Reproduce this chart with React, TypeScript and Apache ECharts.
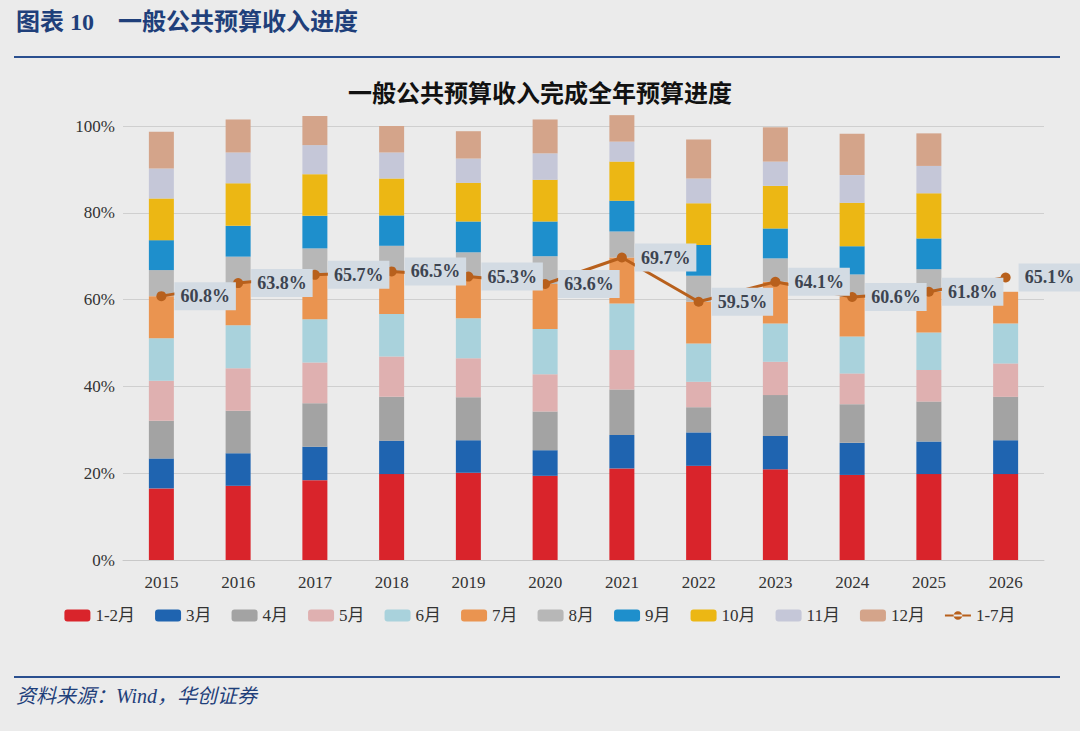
import * as echarts from "echarts";
import { useEffect, useRef } from "react";

const years = ["2015", "2016", "2017", "2018", "2019", "2020", "2021", "2022", "2023", "2024", "2025", "2026"];
const monthNames = ["1-2月", "3月", "4月", "5月", "6月", "7月", "8月", "9月", "10月", "11月", "12月"];

// cumulative progress (%) at the end of each period
const cumFeb = [16.5, 17.1, 18.4, 19.8, 20.1, 19.4, 21.1, 21.7, 20.9, 19.6, 19.8, 19.8];
const cumMar = [23.4, 24.6, 26.1, 27.5, 27.6, 25.3, 28.8, 29.4, 28.6, 27.0, 27.3, 27.6];
const cumApr = [32.1, 34.4, 36.1, 37.6, 37.5, 34.2, 39.3, 35.2, 38.0, 35.9, 36.5, 37.6];
const cumMay = [41.3, 44.2, 45.5, 46.9, 46.5, 42.8, 48.4, 41.1, 45.7, 43.0, 43.8, 45.3];
const cumJun = [51.1, 54.1, 55.5, 56.7, 55.7, 53.2, 59.1, 49.9, 54.5, 51.5, 52.4, 54.5];
const cumJul = [60.8, 63.8, 65.7, 66.5, 65.3, 63.6, 69.7, 59.5, 64.1, 60.6, 61.8, 61.8];
const cumAug = [66.8, 69.9, 71.8, 72.4, 70.9, 70.0, 75.7, 65.5, 69.5, 65.8, 67.0, null];
const cumSep = [73.7, 77.0, 79.3, 79.4, 78.0, 78.0, 82.8, 72.6, 76.4, 72.3, 74.1, null];
const cumOct = [83.3, 86.8, 88.9, 87.9, 86.9, 87.6, 91.8, 82.2, 86.2, 82.3, 84.5, null];
const cumNov = [90.2, 93.9, 95.6, 93.9, 92.5, 93.7, 96.4, 87.9, 91.8, 88.7, 90.8, null];
const cumDec = [98.7, 101.5, 102.3, 100.0, 98.8, 101.5, 102.5, 96.9, 99.7, 98.2, 98.3, null];

const jan7 = [60.8, 63.8, 65.7, 66.5, 65.3, 63.6, 69.7, 59.5, 64.1, 60.6, 61.8, 65.1];

const colors = ["#d9242b", "#1f64b0", "#a3a3a3", "#dfb0b0", "#a9d2dc", "#ea9450", "#b7b7b7", "#1e8fcc", "#ecb714", "#c5c7d8", "#d4a48a"];

export default function App() {
  const ref = useRef<HTMLDivElement | null>(null);

  useEffect(() => {
    const el = ref.current;
    if (!el) return;
    const chart = echarts.init(el, undefined, { renderer: "svg" });

    const cums = [cumFeb, cumMar, cumApr, cumMay, cumJun, cumJul, cumAug, cumSep, cumOct, cumNov, cumDec];
    const bars = cums.map((c, k) => ({
      name: monthNames[k],
      type: "bar" as const,
      stack: "total",
      barWidth: 25,
      clip: false,
      itemStyle: { color: colors[k] },
      data: c.map((v, i) => {
        if (v == null) return null;
        const prev = k === 0 ? 0 : (cums[k - 1][i] as number);
        return +(v - prev).toFixed(1);
      }),
    }));

    const serif = "'Liberation Serif', 'Noto Sans CJK SC', serif";

    chart.setOption({
      animation: false,
      backgroundColor: "#ebebeb",
      textStyle: { fontFamily: serif },
      graphic: [
        { type: "text", left: 16, top: 10, style: { text: "图表 10    一般公共预算收入进度", font: `bold 24px ${serif}`, fill: "#1f3f7a" } },
        { type: "rect", shape: { x: 14, y: 56, width: 1046, height: 2 }, style: { fill: "#2a4f8f" } },
        { type: "rect", shape: { x: 14, y: 676, width: 1046, height: 2 }, style: { fill: "#2a4f8f" } },
        { type: "text", left: 16, top: 686, style: { text: "资料来源：Wind，华创证券", font: `italic 20px ${serif}`, fill: "#1f3f7a" } },
        { type: "text", left: "center", top: 82, style: { text: "一般公共预算收入完成全年预算进度", font: `bold 24px ${serif}`, fill: "#111" } },
      ],
      grid: { left: 123, right: 36, top: 126, bottom: 171 },
      legend: {
        bottom: 102,
        left: "center",
        itemWidth: 26,
        itemHeight: 12,
        itemGap: 20,
        textStyle: { fontSize: 17, color: "#333", fontFamily: serif },
        data: [
          ...monthNames,
          { name: "1-7月", icon: "path://M0,4h24v2h-24z M8,5a4,4 0 1,0 8,0a4,4 0 1,0 -8,0z", itemStyle: { color: "#b8601c" } },
        ],
      },
      xAxis: {
        type: "category",
        data: years,
        axisLine: { lineStyle: { color: "#c8c8c8" } },
        axisTick: { show: false },
        axisLabel: { fontSize: 17, color: "#333", margin: 14 },
      },
      yAxis: {
        type: "value",
        min: 0,
        max: 100,
        interval: 20,
        axisLabel: { formatter: "{value}%", fontSize: 17, color: "#333" },
        splitLine: { lineStyle: { color: "#cfcfcf" } },
      },
      series: [
        ...bars,
        {
          name: "1-7月",
          type: "line",
          data: jan7,
          z: 10,
          color: "#b8601c",
          lineStyle: { width: 3, color: "#b8601c" },
          symbol: "circle",
          symbolSize: 10,
          itemStyle: { color: "#b8601c" },
          label: {
            show: true,
            position: "right",
            distance: 8,
            formatter: (p: { value: number }) => `${p.value.toFixed(1)}%`,
            fontSize: 18,
            fontWeight: "bold",
            color: "#3d4450",
            backgroundColor: "#d3dbe3",
            padding: [5, 6],
          },
        },
      ],
    });

    return () => chart.dispose();
  }, []);

  return <div ref={ref} style={{ position: "fixed", left: 0, top: 0, width: 1080, height: 731 }} />;
}
